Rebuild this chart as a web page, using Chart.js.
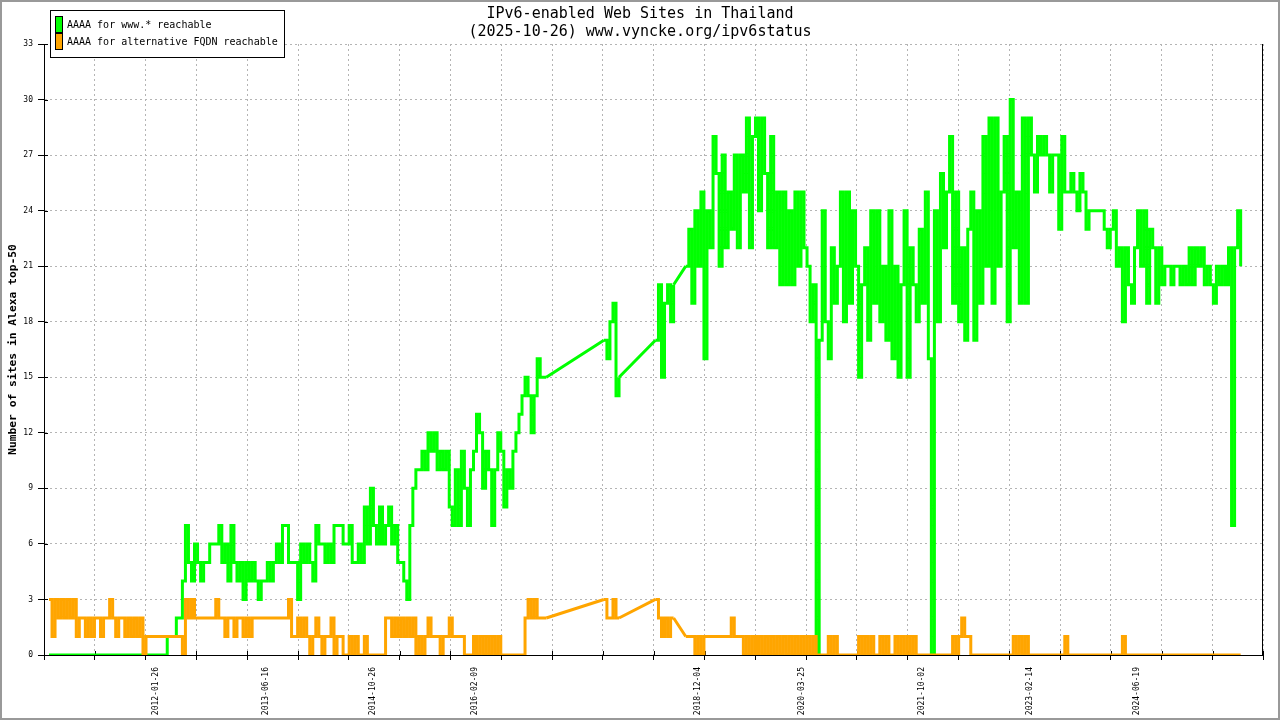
<!DOCTYPE html>
<html>
<head>
<meta charset="utf-8">
<title>IPv6-enabled Web Sites in Thailand</title>
<script src="https://cdn.jsdelivr.net/npm/chart.js@4.4.1/dist/chart.umd.min.js"></script>
<style>
  html, body { margin: 0; padding: 0; background: #fff; overflow: hidden; }
</style>
</head>
<body>
<canvas id="chart_thailand" width="1280" height="720"></canvas>
<script>
const chartTitle = ['IPv6-enabled Web Sites in Thailand', '(2025-10-26) www.vyncke.org/ipv6status'];
const yAxisTitle = 'Number of sites in Alexa top-50';
const seriesNames = ['AAAA for www.* reachable', 'AAAA for alternative FQDN reachable'];
const seriesColors = ['#00ff00', '#ffa500'];

// one sample every 14 days starting at firstSample, null = no data (gnuplot draws a straight line across)
const firstSample = '2010-09-24';
const sampleStepDays = 14;
const axisFrom = '2010-09-01';
const axisTo = '2026-01-30';
const tickLabelDates = ['2012-01-26', '2013-06-16', '2014-10-26', '2016-02-09', '2018-12-04',
                        '2020-03-25', '2021-10-02', '2023-02-14', '2024-06-19'];
const yMax = 33;
const yStep = 3;

const wwwReachable = [
  0,0,0,0,0,0,0,0,0,0,
  0,0,0,0,0,0,0,0,0,0,
  0,0,0,0,0,0,0,0,0,0,
  0,0,0,0,0,0,0,0,0,1,
  1,1,2,2,4,7,5,4,6,5,
  4,5,5,6,6,6,7,5,6,4,
  7,5,4,5,3,5,4,5,4,3,
  4,4,5,4,5,6,5,7,7,5,
  5,5,3,6,5,6,5,4,7,6,
  6,5,6,5,7,7,7,6,6,7,
  5,5,6,5,8,6,9,7,6,8,
  6,7,8,6,7,5,5,4,3,7,
  9,10,10,11,10,12,11,12,10,11,
  10,11,8,7,10,7,11,9,7,10,
  11,13,12,9,11,10,7,10,12,11,
  8,10,9,11,12,13,14,15,14,12,
  14,16,15,15,15,null,null,null,null,null,
  null,null,null,null,null,null,null,null,null,null,
  null,null,null,17,16,18,19,14,15,null,
  null,null,null,null,null,null,null,null,null,null,
  17,20,15,19,20,18,20,null,null,null,
  21,23,19,24,21,25,16,24,22,28,
  26,21,27,22,25,23,27,22,27,25,
  29,22,28,29,24,29,26,22,28,22,
  25,20,25,20,24,20,25,21,25,22,
  21,18,20,0,17,24,18,16,22,19,
  21,25,18,25,19,24,21,15,20,22,
  17,24,19,24,18,21,17,24,16,21,
  15,20,24,15,22,20,18,23,19,25,
  16,0,24,18,26,22,25,28,19,25,
  18,22,17,23,25,17,24,19,28,21,
  29,19,29,21,25,28,18,30,22,25,
  19,29,19,29,27,25,28,27,28,27,
  25,27,27,23,28,25,25,26,25,24,
  26,25,23,24,24,24,24,24,23,22,
  23,24,21,22,18,22,20,19,22,24,
  21,24,19,23,22,19,22,20,21,21,
  20,21,21,20,21,20,22,20,22,21,
  22,20,21,20,19,21,20,21,20,22,
  7,22,24,21
];

const altReachable = [
  3,1,3,2,3,2,3,2,3,1,
  2,2,1,2,1,2,2,1,2,2,
  3,2,1,2,2,1,2,1,2,1,
  2,0,1,1,1,1,1,1,1,1,
  1,1,1,1,0,3,2,3,2,2,
  2,2,2,2,2,3,2,2,1,2,
  2,1,2,2,1,2,1,2,2,2,
  2,2,2,2,2,2,2,2,2,3,
  1,1,2,1,2,1,0,1,2,1,
  0,1,1,2,0,1,1,0,0,1,
  0,1,0,0,1,0,0,0,0,0,
  0,2,2,1,2,1,2,1,2,1,
  2,0,1,0,1,2,1,1,1,0,
  1,1,2,1,1,1,1,0,0,0,
  1,0,1,0,1,0,1,0,1,0,
  0,0,0,0,0,0,0,2,3,2,
  3,2,2,2,2,null,null,null,null,null,
  null,null,null,null,null,null,null,null,null,null,
  null,null,null,3,2,2,3,2,2,null,
  null,null,null,null,null,null,null,null,null,null,
  3,2,1,2,1,2,2,null,null,null,
  1,1,1,0,1,0,1,1,1,1,
  1,1,1,1,1,2,1,1,1,0,
  1,0,1,0,1,0,1,0,1,0,
  1,0,1,0,1,0,1,0,1,0,
  1,0,1,0,0,0,0,1,0,1,
  0,0,0,0,0,0,0,1,0,1,
  0,1,0,0,1,0,1,0,0,1,
  0,1,0,1,0,1,0,0,0,0,
  0,0,0,0,0,0,0,0,1,0,
  1,2,1,1,0,0,0,0,0,0,
  0,0,0,0,0,0,0,0,1,0,
  1,0,1,0,0,0,0,0,0,0,
  0,0,0,0,0,1,0,0,0,0,
  0,0,0,0,0,0,0,0,0,0,
  0,0,0,0,1,0,0,0,0,0,
  0,0,0,0,0,0,0,0,0,0,
  0,0,0,0,0,0,0,0,0,0,
  0,0,0,0,0,0,0,0,0,0,
  0,0,0,0
];

const dayOf = s => Date.parse(s + 'T00:00:00Z') / 86400000;
const xAt = i => dayOf(firstSample) + i * sampleStepDays;
const toPoints = values => values.map((v, i) => ({x: xAt(i), y: v}));

// straight segments over the missing stretches, from last known sample to the next one
function gapBridges(values) {
  const pts = [];
  let last = -1;
  for (let i = 0; i < values.length; i++) {
    if (values[i] === null) continue;
    if (last >= 0 && i - last > 1) {
      pts.push({x: xAt(last), y: values[last]}, {x: xAt(i), y: values[i]}, {x: xAt(i), y: null});
    }
    last = i;
  }
  return pts;
}

const FONT = '"DejaVu Sans Mono", "Liberation Mono", monospace';
const GRID = '#b4b4b4';

const gnuplotFrame = {
  id: 'gnuplotFrame',
  beforeDatasetsDraw(chart) {
    const {ctx, chartArea: a, scales} = chart;
    ctx.save();
    ctx.strokeStyle = '#000';
    ctx.lineWidth = 1;
    ctx.beginPath();
    const r = Math.round(a.right) - 0.5;
    ctx.moveTo(r, a.top);
    ctx.lineTo(r, a.bottom);
    scales.x.ticks.forEach(t => {
      if (!t.grid) return;
      const px = Math.round(scales.x.getPixelForValue(t.value)) + 0.5;
      ctx.moveTo(px, a.bottom - 4);
      ctx.lineTo(px, a.bottom);
    });
    scales.y.ticks.forEach(t => {
      const py = Math.round(scales.y.getPixelForValue(t.value)) + 0.5;
      ctx.moveTo(a.left, py);
      ctx.lineTo(a.left + 4, py);
    });
    ctx.stroke();
    ctx.restore();
  },
  afterDraw(chart) {
    const ctx = chart.ctx;
    ctx.save();
    // key box
    ctx.fillStyle = '#fff';
    ctx.fillRect(51, 11, 233, 46);
    ctx.strokeStyle = '#000';
    ctx.lineWidth = 1;
    ctx.strokeRect(50.5, 10.5, 234, 47);
    ctx.font = '10px ' + FONT;
    ctx.textBaseline = 'middle';
    seriesNames.forEach((name, k) => {
      const y = 17 + k * 17;
      ctx.fillStyle = seriesColors[k];
      ctx.fillRect(56, y, 6, 15);
      ctx.strokeRect(55.5, y - 0.5, 7, 16);
      ctx.fillStyle = '#000';
      ctx.fillText(name, 67, y + 8);
    });
    // outer frame
    ctx.strokeStyle = '#999';
    ctx.lineWidth = 2;
    ctx.strokeRect(1, 1, chart.width - 2, chart.height - 2);
    ctx.restore();
  }
};

const ctx = document.getElementById('chart_thailand').getContext('2d');
const myChart = new Chart(ctx, {
  type: 'line',
  data: {
    datasets: [{
      label: seriesNames[0],
      data: toPoints(wwwReachable),
      borderColor: seriesColors[0],
      stepped: 'before',
      order: 3
    }, {
      label: '',
      data: gapBridges(wwwReachable),
      borderColor: seriesColors[0],
      order: 2
    }, {
      label: '',
      data: gapBridges(altReachable),
      borderColor: seriesColors[1],
      order: 1
    }, {
      label: seriesNames[1],
      data: toPoints(altReachable),
      borderColor: seriesColors[1],
      stepped: 'before',
      order: 0
    }]
  },
  options: {
    responsive: false,
    animation: false,
    devicePixelRatio: 1,
    spanGaps: false,
    elements: {
      point: { radius: 0, hoverRadius: 0 },
      line: { tension: 0, fill: false, borderWidth: 3, borderJoinStyle: 'miter' }
    },
    layout: { padding: { left: 15, right: 15, top: 0, bottom: 0 } },
    plugins: {
      legend: { display: false },
      tooltip: { enabled: false },
      title: {
        display: true,
        text: chartTitle,
        color: '#000',
        font: { family: FONT, size: 15, weight: 'normal', lineHeight: 1.2 },
        padding: { top: 5, bottom: 3 }
      }
    },
    scales: {
      x: {
        type: 'linear',
        min: dayOf(axisFrom),
        max: dayOf(axisTo),
        afterBuildTicks(axis) {
          const lo = dayOf(axisFrom), hi = dayOf(axisTo);
          const ticks = [];
          for (let k = 0; k <= 24; k++) ticks.push({value: lo + (hi - lo) * k / 24, grid: true});
          tickLabelDates.forEach(d => ticks.push({value: dayOf(d), label: d}));
          ticks.sort((p, q) => p.value - q.value);
          axis.ticks = ticks;
        },
        afterFit(scale) { scale.height = 65; },
        ticks: {
          autoSkip: false,
          minRotation: 90,
          maxRotation: 90,
          padding: 7,
          labelOffset: 1,
          color: '#000',
          font: { family: FONT, size: 8 },
          callback: (value, index, ticks) => ticks[index].label || ''
        },
        grid: {
          color: c => (c.tick && c.tick.grid) ? GRID : 'rgba(0,0,0,0)',
          tickColor: c => (c.tick && c.tick.grid) ? '#000' : 'rgba(0,0,0,0)',
          tickLength: 5,
          tickBorderDash: []
        },
        border: { display: true, color: '#000', width: 1, dash: [2, 3] }
      },
      y: {
        min: 0,
        max: yMax,
        afterFit(scale) { scale.width = 29; },
        ticks: {
          stepSize: yStep,
          padding: 5,
          color: '#000',
          font: { family: FONT, size: 8 }
        },
        grid: {
          color: GRID,
          tickColor: '#000',
          tickLength: 6,
          tickBorderDash: []
        },
        border: { display: true, color: '#000', width: 1, dash: [2, 3] },
        title: {
          display: true,
          text: yAxisTitle,
          color: '#000',
          font: { family: FONT, size: 11.3, weight: 'bold' },
          padding: { top: -9, bottom: 0 }
        }
      }
    }
  },
  plugins: [gnuplotFrame]
});
</script>
</body>
</html>
